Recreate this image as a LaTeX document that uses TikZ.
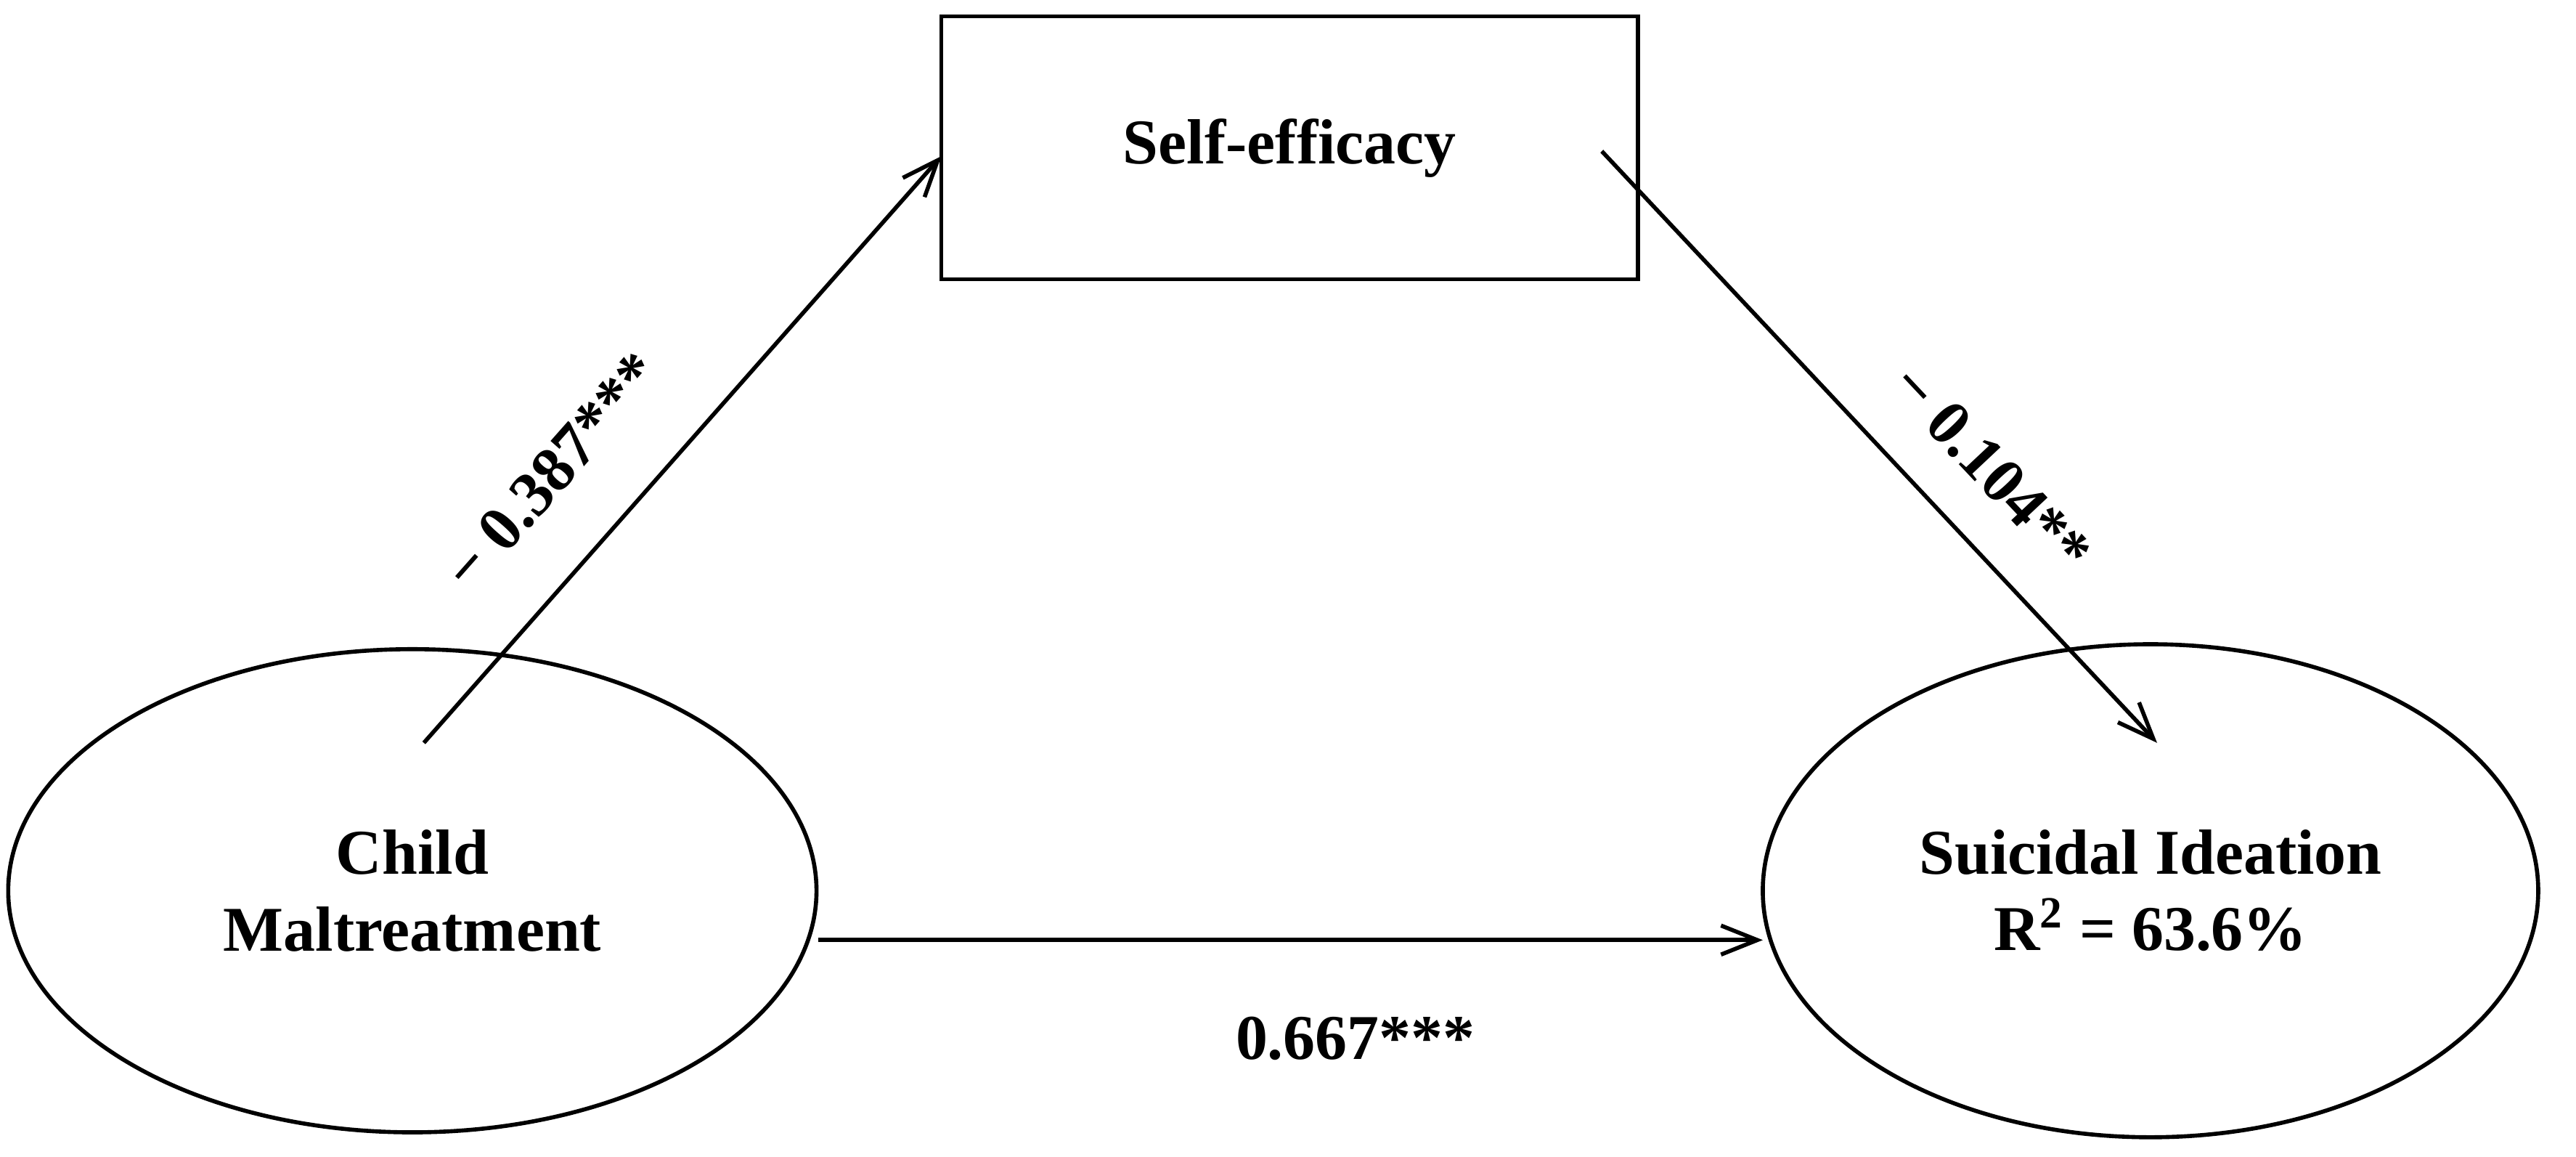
\documentclass[tikz,border=0pt]{standalone}
\usepackage{fontspec}
\setmainfont{Liberation Serif}
\usetikzlibrary{arrows.meta,shapes.geometric}
\begin{document}
\begin{tikzpicture}[x=0.02263cm,y=-0.02263cm,
  lbl/.style={font=\fontsize{25}{30}\selectfont\bfseries},
  arr/.style={line width=1.6pt,-{Straight Barb[length=5mm,width=4mm]}},
  shp/.style={draw,line width=1.6pt}]
\useasboundingbox (0,0) rectangle (1568,704);
\node[shp,minimum width=424*0.02263cm,minimum height=160*0.02263cm,lbl] (se) at (785,90) {Self-efficacy};
\node[shp,ellipse,minimum width=492*0.02263cm,minimum height=294*0.02263cm,lbl,align=center] (cm) at (251,542) {Child\\Maltreatment};
\node[shp,ellipse,minimum width=472*0.02263cm,minimum height=300*0.02263cm,lbl,align=center] (si) at (1309,542) {Suicidal Ideation\\R\textsuperscript{2} = 63.6\%};
\coordinate (a1) at (258,452);
\coordinate (a2) at (573,95);
\coordinate (b1) at (975,92);
\coordinate (b2) at (1313,452);
\coordinate (c1) at (498,572);
\coordinate (c2) at (1073,572);
\draw[arr] (a1) -- (a2);
\draw[arr] (b1) -- (b2);
\draw[arr] (c1) -- (c2);
\node[lbl,rotate=48.5] (l1) at (336,287) {− 0.387***};
\node[lbl,rotate=-46.8] (l2) at (1212,285) {− 0.104**};
\node[lbl] (l3) at (825,632) {0.667***};
\end{tikzpicture}
\end{document}
